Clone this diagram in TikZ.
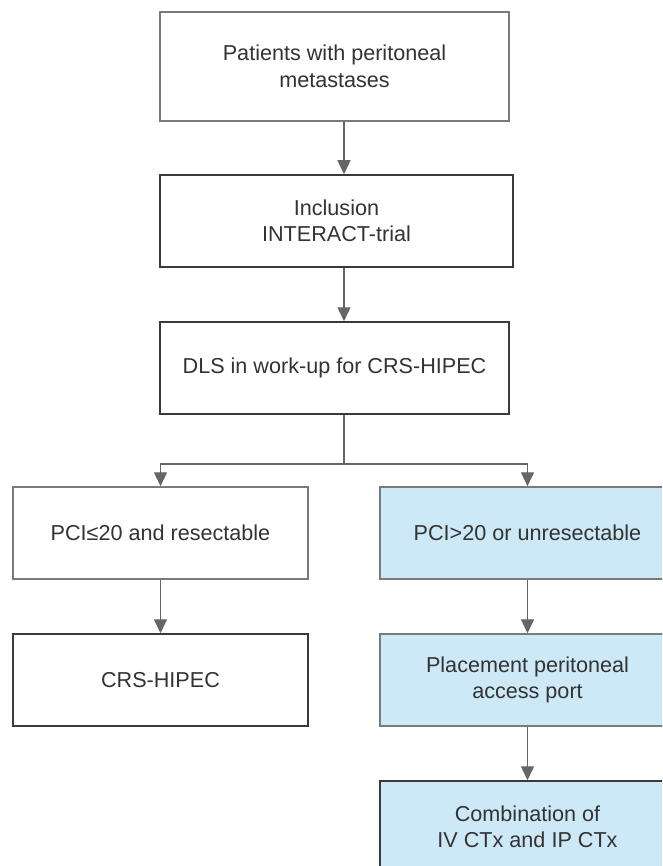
\documentclass[tikz,border=0pt]{standalone}
\usepackage{fontspec}
\setmainfont{Liberation Sans}
\usetikzlibrary{arrows.meta}
\definecolor{boxblue}{HTML}{CDE8F6}
\definecolor{txt}{HTML}{333333}
\definecolor{edgegray}{HTML}{7A7A7A}
\definecolor{edgedark}{HTML}{3A3A3A}
\definecolor{arrgray}{HTML}{666666}
\begin{document}
\begin{tikzpicture}[x=1pt,y=-1pt,
  box/.style={draw, line width=1.5pt, rectangle, inner sep=0pt, align=center,
    text=txt, font=\fontsize{21.6}{26.5}\selectfont},
  lightedge/.style={draw=edgegray},
  darkedge/.style={draw=edgedark},
  bluefill/.style={fill=boxblue},
  conn/.style={draw=arrgray, line width=1.3pt},
  arr/.style={conn, -{Triangle[length=14pt,width=13pt]}}]
\useasboundingbox (0,0) rectangle (662,866);
\clip (0,0) rectangle (662,866);
\fill[white] (0,0) rectangle (662,866);
\coordinate (spine) at (344,0);
\node[box, lightedge, minimum width=349pt, minimum height=109pt] (top) at (334.5,66.5) {Patients with peritoneal\\metastases};
\node[box, darkedge, minimum width=353pt, minimum height=92pt] (incl) at (336.5,221) {Inclusion\\INTERACT-trial};
\node[box, darkedge, minimum width=349pt, minimum height=92pt] (dls) at (334.5,368) {DLS in work-up for CRS-HIPEC};
\node[box, lightedge, minimum width=295pt, minimum height=92pt] (pl) at (160.5,533) {PCI≤20 and resectable};
\node[box, lightedge, bluefill, minimum width=295pt, minimum height=92pt] (pr) at (527.5,533) {PCI>20 or unresectable};
\node[box, darkedge, minimum width=295pt, minimum height=92pt] (crs) at (160.5,680) {CRS-HIPEC};
\node[box, lightedge, bluefill, minimum width=295pt, minimum height=92pt] (port) at (527.5,680) {Placement peritoneal\\access port};
\node[box, darkedge, bluefill, minimum width=295pt, minimum height=92pt] (comb) at (527.5,827) {Combination of\\IV CTx and IP CTx};
\coordinate (split) at (344,464);
\draw[arr] (top.south -| spine) -- (incl.north -| spine);
\draw[arr] (incl.south -| spine) -- (dls.north -| spine);
\draw[conn] (dls.south -| spine) -- (split);
\draw[arr] (split) -| (pl.north);
\draw[arr] (split) -| (pr.north);
\draw[arr] (pl.south) -- (crs.north);
\draw[arr] (pr.south) -- (port.north);
\draw[arr] (port.south) -- (comb.north);
\end{tikzpicture}
\end{document}
